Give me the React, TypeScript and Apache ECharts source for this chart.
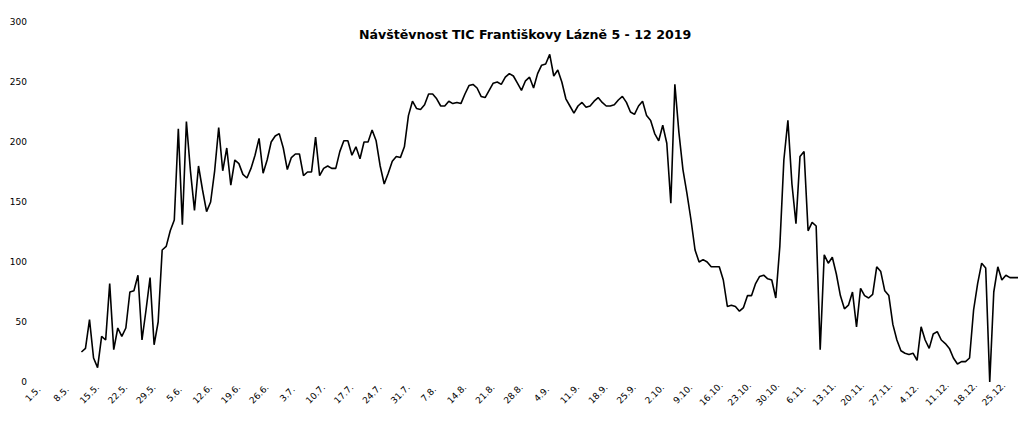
import React, { useEffect, useRef } from "react";
import * as echarts from "echarts";

const TITLE = "Návštěvnost TIC Františkovy Lázně 5 - 12 2019";
const YEAR = 2019;
const START_MONTH = 4; // May (0-based)
const DAY_COUNT = 245; // 1.5. – 31.12.

// daily visitors, first 12 days without data
const visitors: (number | null)[] = [
  null, null, null, null, null, null, null, null, null, null, null, null,
  25, 28, 52, 20, 12, 38, 35, 82, 27, 45,
  38, 45, 75, 76, 89, 35, 60, 87, 31, 50,
  110, 113, 126, 135, 211, 131, 217, 176, 143, 180,
  160, 142, 150, 176, 212, 176, 195, 164, 185, 182,
  173, 170, 178, 189, 203, 174, 185, 200, 205, 207,
  195, 177, 187, 190, 190, 172, 175, 175, 204, 172,
  178, 180, 178, 178, 192, 201, 201, 189, 196, 186,
  200, 200, 210, 201, 180, 165, 174, 184, 188, 187,
  196, 222, 234, 228, 227, 231, 240, 240, 236, 230,
  230, 234, 232, 233, 232, 240, 247, 248, 245, 238,
  237, 243, 249, 250, 248, 254, 257, 255, 249, 243,
  251, 254, 245, 257, 264, 265, 273, 255, 260, 250,
  236, 230, 224, 230, 233, 229, 230, 234, 237, 233,
  230, 230, 231, 235, 238, 233, 225, 223, 230, 234,
  222, 218, 207, 201, 214, 199, 149, 248, 208, 177,
  157, 135, 110, 100, 102, 100, 96, 96, 96, 85,
  63, 64, 63, 59, 62, 72, 72, 82, 88, 89,
  86, 85, 70, 113, 185, 218, 165, 132, 188, 192,
  126, 133, 130, 27, 106, 99, 104, 90, 72, 61,
  64, 75, 46, 78, 72, 70, 73, 96, 92, 76,
  72, 48, 35, 26, 24, 23, 24, 18, 46, 35,
  28, 40, 42, 35, 32, 28, 20, 15, 17, 17,
  20, 60, 82, 99, 95, 0, 75, 96, 85, 89,
  87, 87, 87,
];

const yTicks = [0, 50, 100, 150, 200, 250, 300];

function buildDates(): string[] {
  const out: string[] = [];
  for (let i = 0; i < DAY_COUNT; i++) {
    const d = new Date(YEAR, START_MONTH, 1 + i);
    out.push(`${d.getDate()}.${d.getMonth() + 1}.`);
  }
  return out;
}
const dates = buildDates();

export default function App() {
  const ref = useRef<HTMLDivElement>(null);
  useEffect(() => {
    if (!ref.current) return;
    const chart = echarts.init(ref.current, undefined, { renderer: "svg" });
    chart.setOption({
      animation: false,
      backgroundColor: "#ffffff",
      title: {
        text: TITLE,
        left: 354,
        top: 23,
        textStyle: { fontSize: 12.6, fontWeight: "bold", color: "#000", fontFamily: "DejaVu Sans" },
      },
      grid: { left: 33, right: 4, top: 22, bottom: 39 },
      xAxis: {
        type: "category",
        data: dates,
        boundaryGap: false,
        axisLine: { show: false },
        axisTick: { show: false },
        splitLine: { show: false },
        axisLabel: {
          interval: 6,
          rotate: 45,
          align: "center",
          verticalAlign: "middle",
          fontSize: 9,
          color: "#000",
          margin: 12,
          fontFamily: "DejaVu Sans",
        },
      },
      yAxis: {
        type: "value",
        min: yTicks[0],
        max: yTicks[yTicks.length - 1],
        interval: yTicks[1] - yTicks[0],
        axisLine: { show: false },
        axisTick: { show: false },
        splitLine: { show: false },
        axisLabel: { fontSize: 9, color: "#000", margin: 6, fontFamily: "DejaVu Sans" },
      },
      series: [
        {
          type: "line",
          data: visitors,
          showSymbol: false,
          symbol: "none",
          connectNulls: false,
          lineStyle: { color: "#000", width: 1.6 },
          itemStyle: { color: "#000" },
        },
      ],
    });
    return () => chart.dispose();
  }, []);
  return (
    <div
      ref={ref}
      style={{ position: "fixed", left: 0, top: 0, width: 1022, height: 421, background: "#fff" }}
    />
  );
}
